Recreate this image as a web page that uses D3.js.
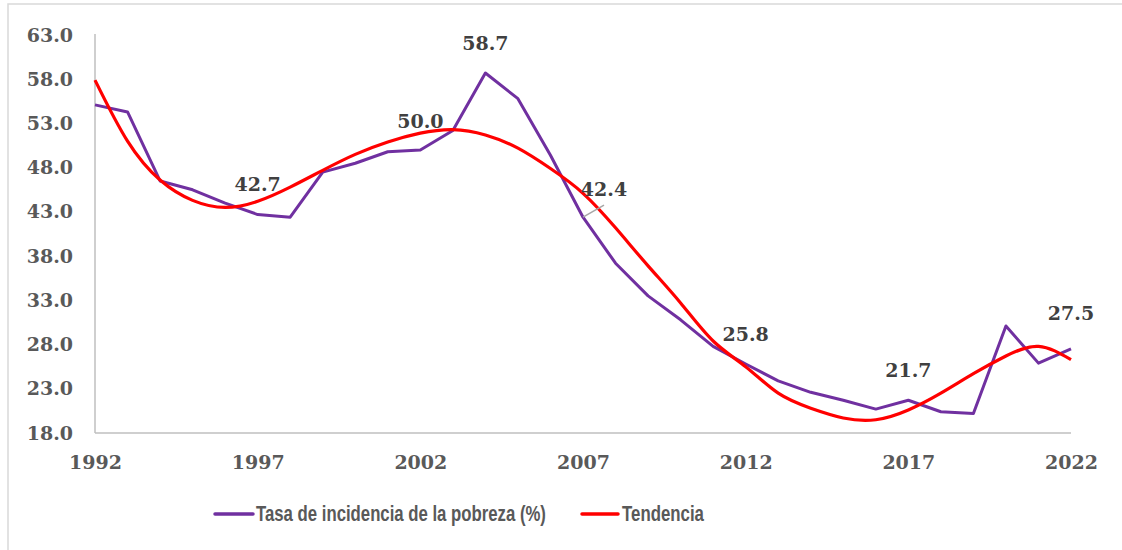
<!DOCTYPE html>
<html>
<head>
<meta charset="utf-8">
<script src="https://cdn.jsdelivr.net/npm/d3@7"></script>
<style>
  body { margin: 0; background: #fff; }
  svg { display: block; }
</style>
</head>
<body>
<svg id="chart"></svg>
<script>
// --- data ---
const years = d3.range(1992, 2023);
const pobreza = [55.1, 54.3, 46.5, 45.5, 44.0, 42.7, 42.4, 47.5, 48.5, 49.8,
                 50.0, 52.2, 58.7, 55.8, 49.4, 42.4, 37.2, 33.5, 30.8, 27.8,
                 25.8, 23.9, 22.6, 21.7, 20.7, 21.7, 20.4, 20.2, 30.1, 25.9, 27.5];
const tendencia = [57.9, 51.0, 46.6, 44.3, 43.5, 44.2, 45.8, 47.7, 49.5, 50.9,
                   51.9, 52.3, 51.7, 50.2, 47.9, 45.1, 41.2, 36.9, 32.7, 28.4,
                   25.5, 22.5, 20.8, 19.7, 19.5, 20.6, 22.5, 24.7, 26.7, 27.8, 26.3];
const yTicks = [18, 23, 28, 33, 38, 43, 48, 53, 58, 63];
const xTicks = [1992, 1997, 2002, 2007, 2012, 2017, 2022];
const labelYears = [1997, 2002, 2004, 2007, 2012, 2017, 2022];
const seriesNames = ["Tasa de incidencia de la pobreza (%)", "Tendencia"];

const width = 1122;
const height = 550;

const svg = d3.select("#chart")
  .attr("width", width)
  .attr("height", height);

// chart frame (right / bottom edges fall outside the picture)
svg.append("rect")
  .attr("x", 8).attr("y", 4)
  .attr("width", 1130).attr("height", 560)
  .attr("fill", "#fff")
  .attr("stroke", "#d9d9d9")
  .attr("stroke-width", 1.5);

const x = d3.scaleLinear().domain([1992, 2022]).range([95, 1071]);
const y = d3.scaleLinear().domain([18, 63]).range([433, 35]);

const serif = "'DejaVu Serif', 'Liberation Serif', serif";

// y axis
const yAxis = svg.append("g")
  .attr("transform", "translate(95,0)")
  .call(d3.axisLeft(y).tickValues(yTicks).tickFormat(d3.format(".1f")).tickSize(0).tickPadding(22));
yAxis.select(".domain").attr("stroke", "#bfbfbf").attr("stroke-width", 1.5)
  .attr("d", `M0,${y(63) - 1}V${y(18)}`);
yAxis.selectAll("text")
  .attr("font-family", serif).attr("font-weight", "bold")
  .attr("font-size", 19).attr("fill", "#595959");

// x axis
const xAxis = svg.append("g")
  .attr("transform", `translate(0,${y(18)})`)
  .call(d3.axisBottom(x).tickValues(xTicks).tickFormat(d3.format("d")).tickSize(0).tickPadding(23));
xAxis.select(".domain").attr("stroke", "#bfbfbf").attr("stroke-width", 1.5)
  .attr("d", `M${x(1992)},0H${x(2022)}`);
xAxis.selectAll("text")
  .attr("font-family", serif).attr("font-weight", "bold")
  .attr("font-size", 19).attr("fill", "#595959");

// lines
const purpleLine = d3.line()
  .x((d, i) => x(years[i]))
  .y(d => y(d));

const trendLine = d3.line()
  .x((d, i) => x(years[i]))
  .y(d => y(d))
  .curve(d3.curveNatural);

svg.append("path")
  .datum(pobreza)
  .attr("d", purpleLine)
  .attr("fill", "none")
  .attr("stroke", "#7030a0")
  .attr("stroke-width", 3)
  .attr("stroke-linejoin", "round");

svg.append("path")
  .datum(tendencia)
  .attr("d", trendLine)
  .attr("fill", "none")
  .attr("stroke", "#ff0000")
  .attr("stroke-width", 3.2);

// data labels (offsets from the point)
const labelOffset = {
  1997: [0, -24], 2002: [0, -22], 2004: [0, -23], 2007: [21, -21],
  2012: [0, -23], 2017: [0, -23], 2022: [0, -29]
};

// leader line for 2007
svg.append("line")
  .attr("x1", x(2007)).attr("y1", y(pobreza[2007 - 1992]))
  .attr("x2", x(2007) + 21).attr("y2", y(pobreza[2007 - 1992]) - 12)
  .attr("stroke", "#a6a6a6").attr("stroke-width", 1.5);

svg.append("g")
  .selectAll("text")
  .data(labelYears)
  .enter()
  .append("text")
  .attr("x", d => x(d) + labelOffset[d][0])
  .attr("y", d => y(pobreza[d - 1992]) + labelOffset[d][1])
  .attr("text-anchor", "middle")
  .attr("font-family", serif)
  .attr("font-weight", "bold")
  .attr("font-size", 19)
  .attr("fill", "#404040")
  .text(d => d3.format(".1f")(pobreza[d - 1992]));

// legend - text squeezed sideways to look like a narrow font
const legend = svg.append("g");
const legendItems = [
  { name: seriesNames[0], color: "#7030a0", x1: 215, x2: 253, tx: 256, tl: 290 },
  { name: seriesNames[1], color: "#ff0000", x1: 582, x2: 618, tx: 622, tl: 82 }
];
legendItems.forEach(item => {
  legend.append("line")
    .attr("x1", item.x1).attr("x2", item.x2)
    .attr("y1", 514).attr("y2", 514)
    .attr("stroke", item.color)
    .attr("stroke-width", 3.5)
    .attr("stroke-linecap", "round");
  const t = legend.append("text")
    .attr("x", 0).attr("y", 0)
    .attr("font-family", "'Liberation Sans', Arial, sans-serif")
    .attr("font-weight", "bold")
    .attr("font-size", 22.5)
    .attr("fill", "#595959")
    .text(item.name);
  const w = t.node().getComputedTextLength();
  t.attr("transform", `translate(${item.tx},521) scale(${item.tl / w},1)`);
});
</script>
</body>
</html>
